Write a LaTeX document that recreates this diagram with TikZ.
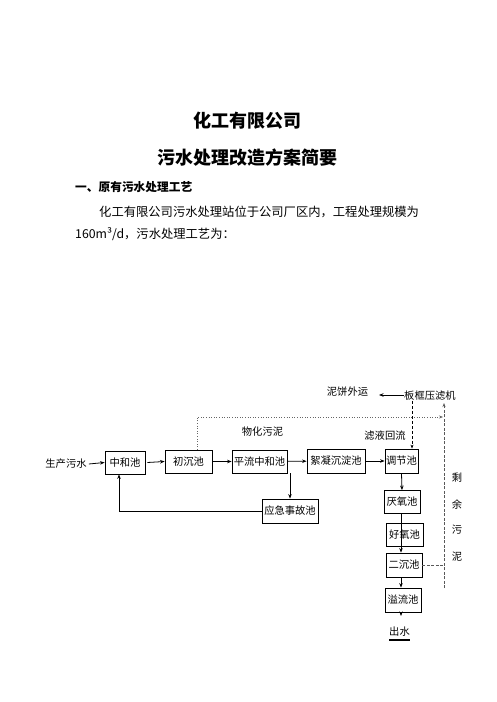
\documentclass[tikz,border=0pt]{standalone}
\usepackage{fontspec}
\setmainfont{Noto Sans CJK SC}
\usetikzlibrary{arrows.meta}
\begin{document}
\begin{tikzpicture}[x=1pt,y=-1pt,
  box/.style={draw,line width=0.8pt,minimum height=23pt,inner sep=0pt,font=\fontsize{10.3}{12}\selectfont},
  lbl/.style={inner sep=0pt,font=\fontsize{10.3}{12}\selectfont},
  arr/.style={line width=0.8pt,-{Stealth[length=4.5pt,width=3.5pt]}},
  dotl/.style={line width=0.6pt,dotted,gray!80!black},
  dashl/.style={line width=0.8pt,dash pattern=on 3pt off 2pt},
  gdash/.style={line width=0.6pt,dash pattern=on 3pt off 1.5pt,gray!70!black}]
\useasboundingbox (0,0) rectangle (496,702);
% header texts
\node[inner sep=0pt,font=\fontsize{18}{20}\selectfont\bfseries] (t1) at (247,121) {化工有限公司};
\node[inner sep=0pt,font=\fontsize{18}{20}\selectfont\bfseries] (t2) at (247,158) {污水处理改造方案简要};
\node[inner sep=0pt,anchor=west,font=\fontsize{11.7}{14}\selectfont\bfseries] (h1) at (75,187) {一、原有污水处理工艺};
\node[inner sep=0pt,anchor=west,font=\fontsize{12.3}{14}\selectfont] (p1) at (99,212) {化工有限公司污水处理站位于公司厂区内，工程处理规模为};
\node[inner sep=0pt,anchor=west,font=\fontsize{12.3}{14}\selectfont] (p2) at (75,234) {160m³/d，污水处理工艺为：};
% diagram nodes
\node[lbl] (src) at (66,464) {生产污水};
\node[box,minimum width=40pt] (zh) at (125,462.5) {中和池};
\node[box,minimum width=47pt] (cc) at (188.5,461.5) {初沉池};
\node[box,minimum width=55pt] (pl) at (259.5,461.5) {平流中和池};
\node[box,minimum width=58pt,minimum height=24pt] (xn) at (336,461) {絮凝沉淀池};
\node[box,minimum width=33pt,minimum height=24pt] (tj) at (401.5,461) {调节池};
\node[box,minimum width=56pt,minimum height=24pt] (yj) at (290,511) {应急事故池};
\node[box,minimum width=36pt] (ya) at (402,502) {厌氧池};
\node[box,minimum width=37pt] (hy) at (404.5,534.5) {好氧池};
\node[box,minimum width=36pt,minimum height=24pt] (ec) at (404,565) {二沉池};
\node[box,minimum width=36pt,minimum height=24pt] (yl) at (403,600) {溢流池};
\node[lbl] (cs) at (399.5,632) {出水};
\draw[line width=1.2pt] (cs.south west) ++(0,3) -- ++(21,0);
\node[lbl,anchor=west] (bk) at (404,396) {板框压滤机};
\node[lbl] (nb) at (347.5,392) {泥饼外运};
\node[lbl] (wh) at (262.5,432) {物化污泥};
\node[lbl] (ly) at (385,436) {滤液回流};
\node[lbl] (s1) at (457,478) {剩};
\node[lbl] (s2) at (457,505) {余};
\node[lbl] (s3) at (457,530) {污};
\node[lbl] (s4) at (457,557) {泥};
% main connectors
\draw[arr] (src.east) ++(2,0) -- (zh.west);
\draw[arr] (zh.east) ++(2,0) -- (cc.west);
\draw[arr] (cc) -- (pl);
\draw[arr] (pl) -- (xn);
\draw[arr] (xn) -- (tj);
\draw[arr] (pl.south -| yj.north) -- (yj.north);
\draw[arr] (yj.west) -| ([xshift=-6pt]zh.south);
\draw[arr] (tj.south) -- (ya.north);
\draw[arr] ([xshift=-1pt]ya.south) -- ([xshift=-3pt]ec.north);
\draw[arr] ([xshift=-3pt]ec.south) -- ([xshift=-2pt]yl.north);
\coordinate (out) at (401,616);
\draw[arr] ([xshift=-2pt]yl.south) -- (out);
\coordinate (nbe) at (379,395);
\draw[arr] (bk.west) ++(0,-1) -- (nbe);
% sludge lines
\coordinate (dr) at (443,417);
\draw[dotl,-{Stealth[length=4pt,width=3pt]}] ([xshift=8.5pt]cc.north) |- (dr);
\draw[dashl,-{Stealth[length=4pt,width=3pt]}] ([xshift=10.5pt]tj.north |- bk.south) -- ([xshift=10.5pt]tj.north);
\coordinate (rb) at (444,588);
\coordinate (rt) at (444,403);
\draw[gdash] (ec.east) -- (ec.east -| rb);
\draw[gdash,-{Stealth[length=4pt,width=3pt]}] (rb) -- (rt);
\end{tikzpicture}
\end{document}
